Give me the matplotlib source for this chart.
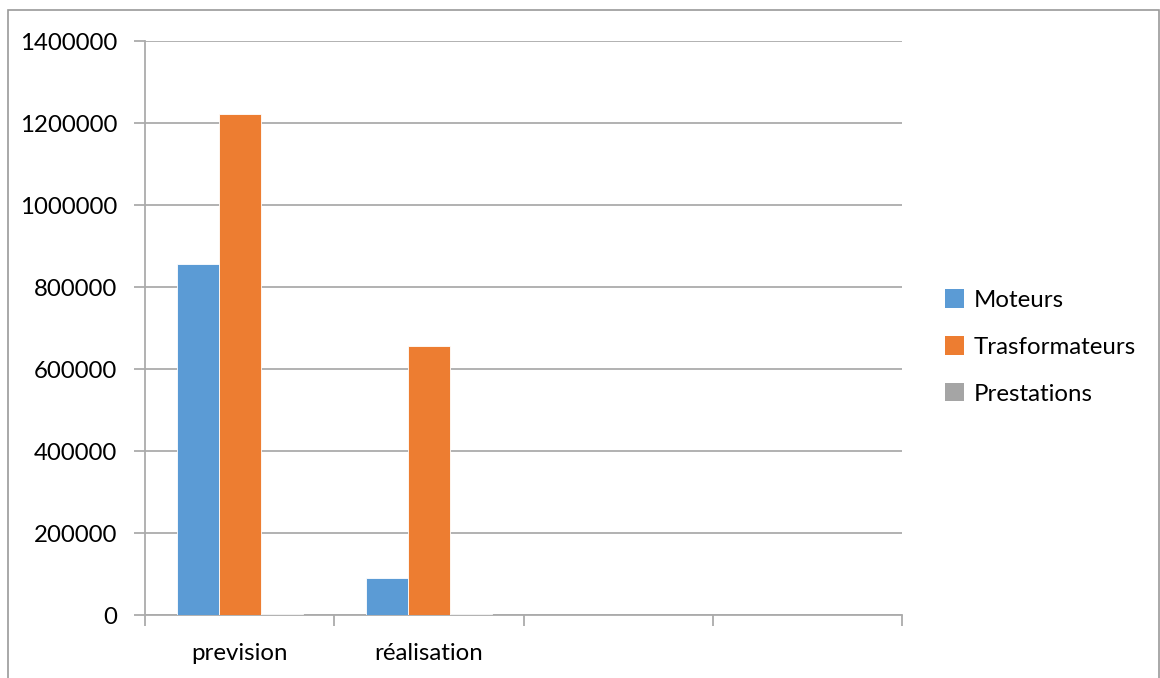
import matplotlib
matplotlib.use("Agg")
import matplotlib.pyplot as plt
from matplotlib.patches import Rectangle
import numpy as np

categories = ["prevision", "réalisation", "", ""]
series_names = ["Moteurs", "Trasformateurs", "Prestations"]
moteurs = [855000, 90000]
trasformateurs = [1221000, 655000]
prestations = [3000, 1500]
y_ticks = [0, 200000, 400000, 600000, 800000, 1000000, 1200000, 1400000]

colors = ["#5B9BD5", "#ED7D31", "#A5A5A5"]
grid_c = "#ababab"
fs = 17.3

plt.rcParams['font.family'] = ['Lato', 'DejaVu Sans']

W, H = 1160, 678
fig = plt.figure(figsize=(W / 100, H / 100), dpi=100)
ax = fig.add_axes([145 / W, 1 - 615 / H, (902 - 145) / W, (615 - 41) / H])

bw = 0.222
series = [moteurs, trasformateurs, prestations]
for k, (vals, name, c) in enumerate(zip(series, series_names, colors)):
    x = np.arange(len(vals)) + (k - 1) * bw
    ax.bar(x, vals, width=bw, color=c, label=name, edgecolor="white",
           linewidth=0.6, zorder=3)

ax.set_xlim(-0.5, len(categories) - 0.5)
ax.set_ylim(0, 1400000)
ax.set_yticks(y_ticks)
ax.set_yticklabels([str(v) for v in y_ticks])
ax.yaxis.grid(True, color=grid_c, linewidth=1.3, zorder=0)

ax.set_xticks(np.arange(len(categories) + 1) - 0.5)
ax.set_xticklabels([])
ax.set_xticks(np.arange(len(categories)), minor=True)
ax.set_xticklabels(categories, minor=True)
ax.tick_params(axis="x", which="major", length=8, color=grid_c, width=1.3)
ax.tick_params(axis="x", which="minor", length=0, pad=20, labelsize=fs,
               labelcolor="#000000")
ax.tick_params(axis="y", length=8, color=grid_c, width=1.3, pad=12,
               labelsize=fs, labelcolor="#000000")

for s in ["top", "right"]:
    ax.spines[s].set_visible(False)
for s in ["left", "bottom"]:
    ax.spines[s].set_color(grid_c)
    ax.spines[s].set_linewidth(1.3)

leg = ax.legend(loc="center left", bbox_to_anchor=(945 / W, 1 - 347 / H),
                bbox_transform=fig.transFigure, frameon=False,
                fontsize=fs, handlelength=0.8, handleheight=0.8,
                handletextpad=0.4, labelspacing=1.05, borderpad=0,
                borderaxespad=0)
for t in leg.get_texts():
    t.set_color("#000000")
for h in leg.legend_handles:
    h.set_edgecolor("none")

fig.patches.append(Rectangle((7.5 / W, -0.05), (1151.5) / W, 1.05 - 10.5 / H,
                             transform=fig.transFigure, fill=False,
                             edgecolor="#9a9a9a", linewidth=1.2))

fig.savefig("out.png", dpi=100, facecolor="white")
